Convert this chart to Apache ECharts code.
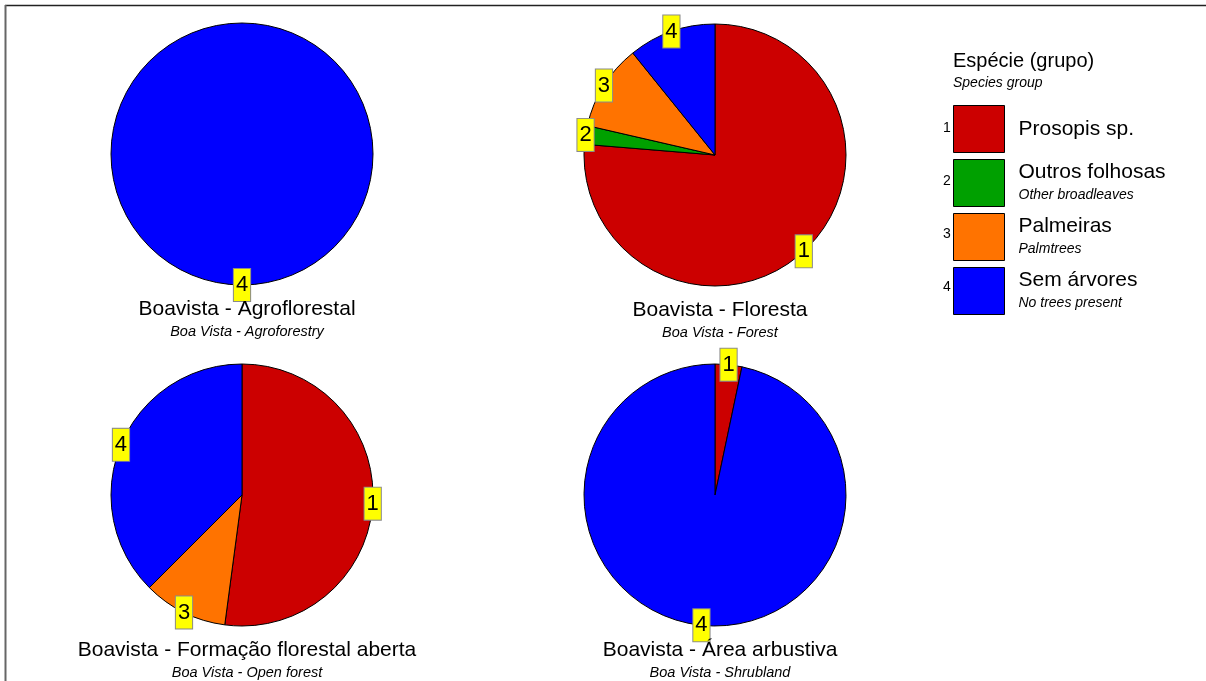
<!DOCTYPE html>
<html>
<head>
<meta charset="utf-8">
<script src="https://cdn.jsdelivr.net/npm/echarts@6/dist/echarts.min.js"></script>
<style>
html,body{margin:0;padding:0;background:#fff;}
#chart{width:1206px;height:681px;}
</style>
</head>
<body>
<div id="chart"></div>
<script>
// Categories (species groups)
const categories = ['Prosopis sp.', 'Outros folhosas', 'Palmeiras', 'Sem árvores'];
const categoriesEn = ['', 'Other broadleaves', 'Palmtrees', 'No trees present'];
const categoryCodes = ['1', '2', '3', '4'];
const colors = ['#cc0000', '#00a000', '#ff7300', '#0000ff'];

// Sites
const siteTitles = ['Boavista - Agroflorestal', 'Boavista - Floresta', 'Boavista - Formação florestal aberta', 'Boavista - Área arbustiva'];
const siteSubtitles = ['Boa Vista - Agroforestry', 'Boa Vista - Forest', 'Boa Vista - Open forest', 'Boa Vista - Shrubland'];

// Shares (%) per site, in category order
const agroflorestal = [0, 0, 0, 100];
const floresta = [76.3, 2.3, 10.6, 10.8];
const formacaoAberta = [52.1, 0, 10.4, 37.5];
const areaArbustiva = [3.3, 0, 0, 96.7];
const siteValues = [agroflorestal, floresta, formacaoAberta, areaArbustiva];

// layout
const centers = [[242, 154], [715, 155], [242, 495], [715, 495]];
const R = 131;
const LR = 128;

function buildData(vals, colored) {
  const out = [];
  vals.forEach((v, i) => {
    if (v > 0) {
      const d = { value: v, name: categories[i], code: categoryCodes[i] };
      if (colored) d.itemStyle = { color: colors[i] };
      out.push(d);
    }
  });
  return out;
}

const series = [];
siteValues.forEach((vals, s) => {
  series.push({
    type: 'pie',
    center: centers[s],
    radius: [0, R],
    startAngle: 90,
    clockwise: true,
    silent: true,
    animation: false,
    label: { show: false },
    labelLine: { show: false },
    itemStyle: { borderColor: '#000', borderWidth: 1 },
    data: buildData(vals, true)
  });
});
siteValues.forEach((vals, s) => {
  series.push({
    type: 'pie',
    center: centers[s],
    radius: [LR - 1, LR + 1],
    startAngle: 90,
    clockwise: true,
    silent: true,
    animation: false,
    itemStyle: { color: 'rgba(0,0,0,0)', borderWidth: 0 },
    labelLine: { show: false },
    label: {
      show: true,
      position: 'inside',
      formatter: p => p.data.code,
      color: '#000',
      fontFamily: 'Arial, Liberation Sans',
      fontSize: 22,
      lineHeight: 24,
      backgroundColor: '#ffff00',
      borderColor: '#8a8a8a',
      borderWidth: 1,
      padding: [4, 2, 4, 2]
    },
    data: buildData(vals, false)
  });
});

const titles = siteTitles.map((t, s) => ({
  text: t,
  subtext: siteSubtitles[s],
  left: centers[s][0],
  top: centers[s][1] + 138,
  textAlign: 'center',
  itemGap: 2,
  textStyle: { fontFamily: 'Arial, Liberation Sans', fontSize: 21, fontWeight: 'normal', color: '#000', lineHeight: 24 },
  subtextStyle: { fontFamily: 'Arial, Liberation Sans', fontSize: 14.5, fontStyle: 'italic', color: '#000', lineHeight: 18 }
}));
titles.push({
  text: 'Espécie (grupo)',
  subtext: 'Species group',
  left: 948,
  top: 44,
  itemGap: 2,
  textStyle: { fontFamily: 'Arial, Liberation Sans', fontSize: 20, fontWeight: 'normal', color: '#000', lineHeight: 24 },
  subtextStyle: { fontFamily: 'Arial, Liberation Sans', fontSize: 14, fontStyle: 'italic', color: '#000', lineHeight: 16 }
});

const option = {
  backgroundColor: '#fff',
  title: titles,
  legend: [
    {
      orient: 'vertical',
      left: 948,
      top: 100,
      itemWidth: 51,
      itemHeight: 47,
      itemGap: 6,
      icon: 'rect',
      selectedMode: false,
      data: categories.map((c, i) => ({ name: c, icon: 'rect', itemStyle: { color: colors[i], borderColor: '#000', borderWidth: 1 } })),
      formatter: name => {
        const i = categories.indexOf(name);
        return categoriesEn[i] ? '{a|' + name + '}\n{b|' + categoriesEn[i] + '}' : '{a|' + name + '}';
      },
      textStyle: {
        padding: [0, 0, 0, 9],
        rich: {
          a: { fontFamily: 'Arial, Liberation Sans', fontSize: 21, color: '#000', lineHeight: 25 },
          b: { fontFamily: 'Arial, Liberation Sans', fontSize: 14, fontStyle: 'italic', color: '#000', lineHeight: 22 }
        }
      }
    },
    {
      orient: 'vertical',
      left: 932,
      top: 100,
      itemWidth: 1,
      itemHeight: 47,
      itemGap: 6,
      icon: 'rect',
      selectedMode: false,
      data: categories.map(c => ({ name: c, itemStyle: { color: 'rgba(0,0,0,0)', borderWidth: 0 } })),
      formatter: name => categoryCodes[categories.indexOf(name)],
      textStyle: { fontFamily: 'Arial, Liberation Sans', fontSize: 14, color: '#000', padding: [0, 0, 0, 0] }
    }
  ],
  graphic: [
    { type: 'line', shape: { x1: 5, y1: 5.5, x2: 1206, y2: 5.5 }, style: { stroke: '#222', lineWidth: 1.5 }, silent: true },
    { type: 'line', shape: { x1: 5.5, y1: 5, x2: 5.5, y2: 681 }, style: { stroke: '#666', lineWidth: 2 }, silent: true }
  ],
  series: series
};

const chart = echarts.init(document.getElementById('chart'), null, { renderer: 'canvas' });
chart.setOption(option);
</script>
</body>
</html>
